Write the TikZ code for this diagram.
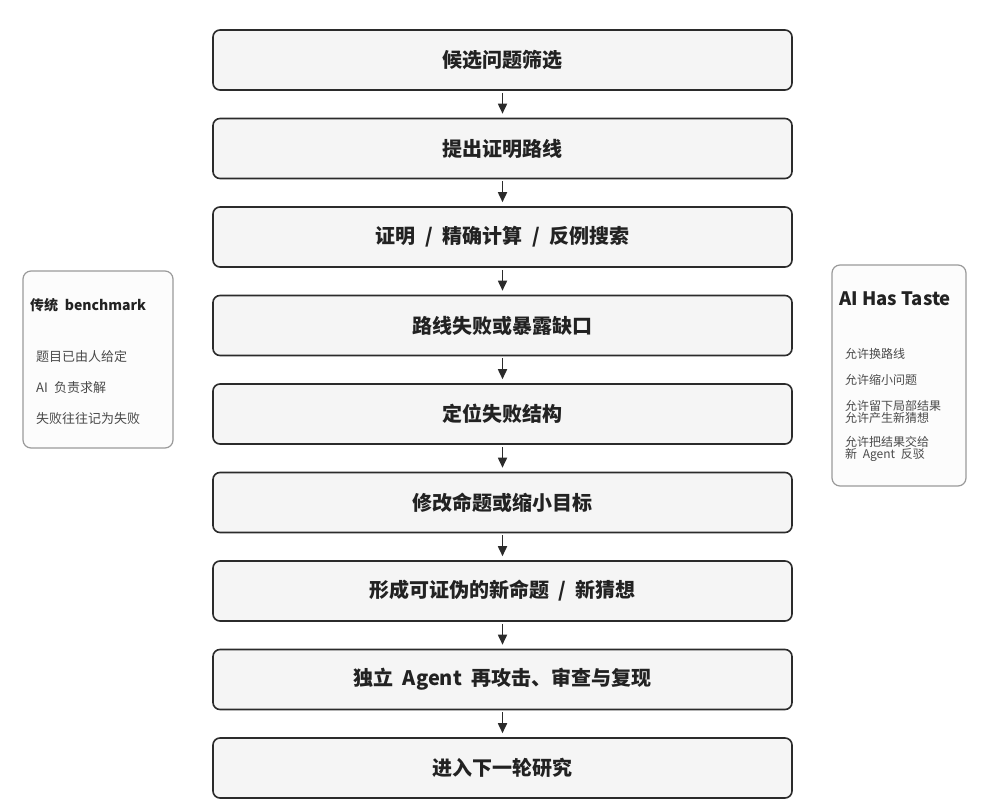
\documentclass[tikz,border=0pt]{standalone}
\usepackage{fontspec}
\setmainfont[WordSpace=2.1]{Noto Sans CJK SC}
\newfontfamily\plainspace{Noto Sans CJK SC}
\usetikzlibrary{arrows.meta}
\definecolor{boxline}{HTML}{2B2B2B}
\definecolor{boxfill}{HTML}{F5F5F5}
\definecolor{sideline}{HTML}{9A9A9A}
\definecolor{sidefill}{HTML}{FCFCFC}
\definecolor{itemtext}{HTML}{4A4A4A}
\definecolor{titletext}{HTML}{222222}
\tikzset{
  mainbox/.style={draw=boxline, fill=boxfill, line width=1.6pt, rounded corners=7pt,
    minimum width=579pt, minimum height=60pt, inner sep=0pt,
    font=\fontsize{20}{24}\selectfont\bfseries, text=titletext},
  sidebox/.style={draw=sideline, fill=sidefill, line width=1.2pt, rounded corners=8pt, inner sep=0pt},
  flowarrow/.style={draw=boxline, line width=1.7pt, -{Triangle[length=10pt,width=9pt]},
    shorten <=2pt, shorten >=4pt},
  sidetitle/.style={anchor=west, inner sep=0pt, text=titletext},
  sideitem/.style={anchor=west, inner sep=0pt, text=itemtext, align=left},
}
\begin{document}
\begin{tikzpicture}[x=1pt,y=-1pt]
\useasboundingbox (0,0) rectangle (986,800);
% main flow
\node[mainbox] (b1) at (502.5,60)    {候选问题筛选};
\node[mainbox] (b2) at (502.5,148.5) {提出证明路线};
\node[mainbox] (b3) at (502.5,237)   {证明 / 精确计算 / 反例搜索};
\node[mainbox] (b4) at (502.5,325.5) {路线失败或暴露缺口};
\node[mainbox] (b5) at (502.5,414)   {定位失败结构};
\node[mainbox] (b6) at (502.5,502.5) {修改命题或缩小目标};
\node[mainbox] (b7) at (502.5,591)   {形成可证伪的新命题 / 新猜想};
\node[mainbox] (b8) at (502.5,679.5) {独立 Agent 再攻击、审查与复现};
\node[mainbox] (b9) at (502.5,768)   {进入下一轮研究};
\foreach \a/\b in {b1/b2,b2/b3,b3/b4,b4/b5,b5/b6,b6/b7,b7/b8,b8/b9}
  \draw[flowarrow] (\a.south) -- (\b.north);
% left side box
\node[sidebox, minimum width=150pt, minimum height=177pt] (lbox) at (98,359.5) {};
\node[sidetitle, font=\fontsize{14}{16}\selectfont\bfseries] (ltitle) at (30,305) {传统 benchmark};
\node[sideitem, font=\fontsize{13}{15}\selectfont] (l1) at (36,357) {题目已由人给定};
\node[sideitem, font=\fontsize{13}{15}\selectfont] (l2) at (36,388) {AI 负责求解};
\node[sideitem, font=\fontsize{13}{15}\selectfont] (l3) at (36,419) {失败往往记为失败};
% right side box
\node[sidebox, minimum width=134pt, minimum height=221pt] (rbox) at (899,375.5) {};
\node[inner sep=0pt, text=titletext, font=\plainspace\fontsize{18.5}{22}\selectfont\bfseries] (rtitle) at (895,299) {AI Has Taste};
\node[sideitem, font=\fontsize{12}{12}\selectfont] (r1) at (845,354) {允许换路线};
\node[sideitem, font=\fontsize{12}{12}\selectfont] (r2) at (845,380) {允许缩小问题};
\node[sideitem, font=\fontsize{12}{12}\selectfont] (r3) at (845,412) {允许留下局部结果\\允许产生新猜想};
\node[sideitem, font=\fontsize{12}{12}\selectfont] (r4) at (845,449) {允许把结果交给\\新 Agent 反驳};
\end{tikzpicture}
\end{document}
